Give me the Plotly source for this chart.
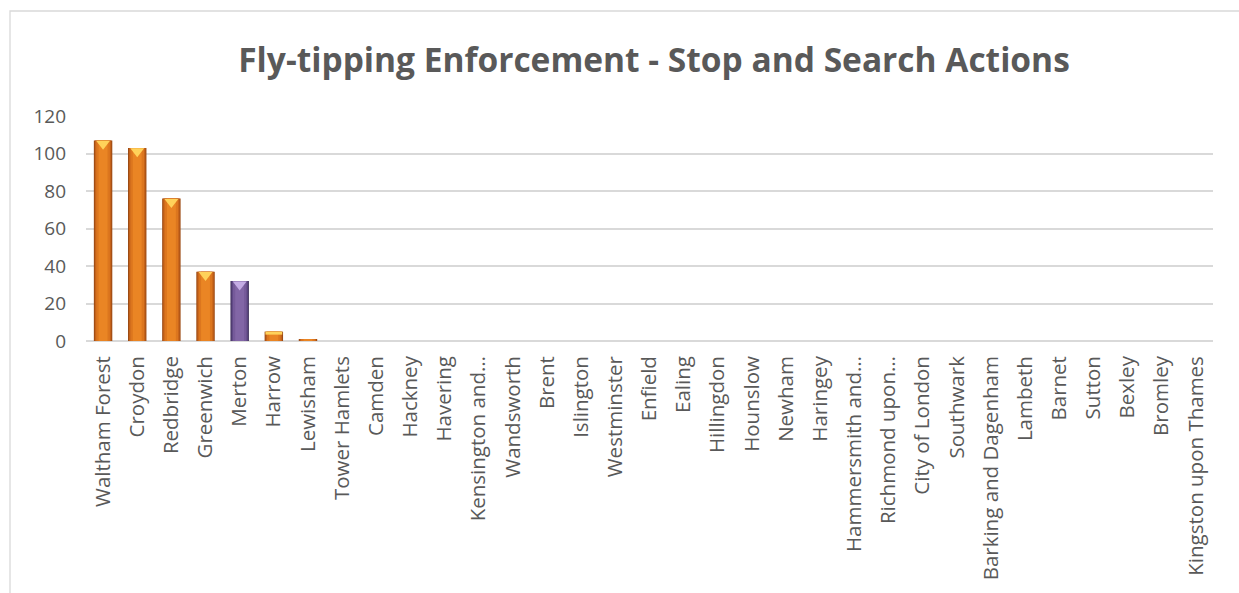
import plotly.graph_objects as go

# London boroughs, ordered as plotted
boroughs = [
    "Waltham Forest", "Croydon", "Redbridge", "Greenwich", "Merton", "Harrow",
    "Lewisham", "Tower Hamlets", "Camden", "Hackney", "Havering",
    "Kensington and Chelsea", "Wandsworth", "Brent", "Islington", "Westminster",
    "Enfield", "Ealing", "Hillingdon", "Hounslow", "Newham", "Haringey",
    "Hammersmith and Fulham", "Richmond upon Thames", "City of London",
    "Southwark", "Barking and Dagenham", "Lambeth", "Barnet", "Sutton",
    "Bexley", "Bromley", "Kingston upon Thames",
]

# Axis labels as shown (long names cut short)
tick_labels = [
    "Waltham Forest", "Croydon", "Redbridge", "Greenwich", "Merton", "Harrow",
    "Lewisham", "Tower Hamlets", "Camden", "Hackney", "Havering",
    "Kensington and…", "Wandsworth", "Brent", "Islington", "Westminster",
    "Enfield", "Ealing", "Hillingdon", "Hounslow", "Newham", "Haringey",
    "Hammersmith and…", "Richmond upon…", "City of London",
    "Southwark", "Barking and Dagenham", "Lambeth", "Barnet", "Sutton",
    "Bexley", "Bromley", "Kingston upon Thames",
]

# Stop and search actions per borough
actions = [107, 103, 76, 37, 32, 5, 1, 0, 0, 0, 0,
           0, 0, 0, 0, 0, 0, 0, 0, 0, 0, 0,
           0, 0, 0, 0, 0, 0, 0, 0, 0, 0, 0]

y_ticks = [0, 20, 40, 60, 80, 100, 120]

highlight = "Merton"

# Shading layers (outer edge -> centre) to give a bevelled look
orange_layers = ["#9C4A14", "#C4621A", "#DC761E", "#EA8524"]
purple_layers = ["#3F2F5C", "#5E4884", "#765A9A", "#8266A6"]
layer_widths = [0.54, 0.48, 0.40, 0.26]
cap_orange = "#FFD25A"
cap_purple = "#C4ACE4"

W, H = 1239, 593
L, R, T, B = 86, 26, 116, 252
plot_w = W - L - R
plot_h = H - T - B

fig = go.Figure()

for i, wdt in enumerate(layer_widths):
    colors = [purple_layers[i] if b == highlight else orange_layers[i] for b in boroughs]
    fig.add_trace(go.Bar(
        x=boroughs, y=actions, width=wdt,
        marker=dict(color=colors, line=dict(width=0)),
        hoverinfo="x+y", showlegend=False,
    ))

# Bevel caps on the taller bars
y_range = [0, 120]
units_per_px = (y_range[1] - y_range[0]) / plot_h
cap_x = [b for b, v in zip(boroughs, actions) if v >= 10]
cap_y = [v - 3.4 * units_per_px for v in actions if v >= 10]
cap_c = [cap_purple if b == highlight else cap_orange for b in cap_x]
fig.add_trace(go.Scatter(
    x=cap_x, y=cap_y, mode="markers",
    marker=dict(symbol="triangle-down", size=12, color=cap_c, line=dict(width=0)),
    hoverinfo="skip", showlegend=False,
))

# Thin caps on the short bars
small_x = [b for b, v in zip(boroughs, actions) if 3 <= v < 10]
small_y = [v - 1.5 * units_per_px for v in actions if 3 <= v < 10]
fig.add_trace(go.Scatter(
    x=small_x, y=small_y, mode="markers",
    marker=dict(symbol="line-ew", size=12, color=cap_orange,
                line=dict(width=3, color=cap_orange)),
    hoverinfo="skip", showlegend=False,
))

# Chart frame (runs off the right and bottom edges)
fig.add_shape(
    type="rect", xref="paper", yref="paper",
    x0=(10 - L) / plot_w, x1=(W + 20 - L) / plot_w,
    y0=-(H + 20 - T - plot_h) / plot_h, y1=(plot_h + T - 11) / plot_h,
    line=dict(color="#D9D9D9", width=1.3), fillcolor="rgba(0,0,0,0)", layer="below",
)

fig.update_layout(
    width=W, height=H,
    margin=dict(l=L, r=R, t=T, b=B),
    paper_bgcolor="white", plot_bgcolor="white",
    barmode="overlay",
    font=dict(family="Open Sans", color="#595959"),
    title=dict(
        text="<b>Fly-tipping Enforcement - Stop and Search Actions</b>",
        x=654 / W, xref="container", xanchor="center",
        y=1 - 60 / H, yref="container", yanchor="middle",
        font=dict(family="Open Sans", size=33.5, color="#595959"),
    ),
    xaxis=dict(
        tickmode="array", tickvals=boroughs, ticktext=tick_labels,
        range=[-0.5, len(boroughs) - 0.5],
        tickangle=-90, tickfont=dict(size=20.5, color="#595959"),
        showgrid=False, showline=False, ticks="", ticklabelstandoff=10,
        fixedrange=True,
    ),
    yaxis=dict(
        range=y_range, tickvals=y_ticks,
        tickfont=dict(size=19, color="#595959"),
        showgrid=True, gridcolor="#D9D9D9", gridwidth=1.6,
        zeroline=True, zerolinecolor="#D9D9D9", zerolinewidth=1.6,
        showline=False, ticks="", ticklabelstandoff=19,
        fixedrange=True,
    ),
)

fig.write_html("out.html")
